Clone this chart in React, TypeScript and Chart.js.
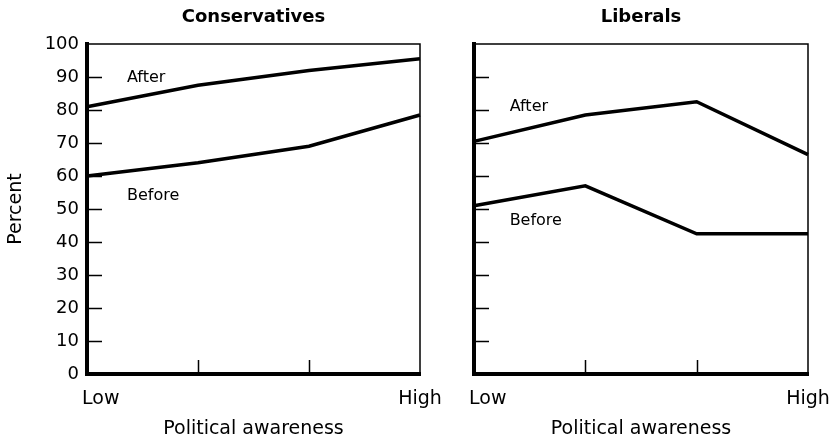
import React, { useEffect, useRef } from "react";
import { Chart, registerables } from "chart.js";

Chart.register(...registerables);

// ---- data ----
const categories = ["Low", "", "", "High"];
const yTickValues = [0, 10, 20, 30, 40, 50, 60, 70, 80, 90, 100];

const conservativesAfter = [81, 87.5, 92, 95.5];
const conservativesBefore = [60, 64, 69, 78.5];
const liberalsAfter = [70.5, 78.5, 82.5, 66.5];
const liberalsBefore = [51, 57, 42.5, 42.5];

const seriesNames = ["After", "Before"];
const panelTitles = ["Conservatives", "Liberals"];
const xAxisTitle = "Political awareness";
const yAxisTitle = "Percent";

// label anchors (data units: category index, percent)
const conservativesLabelX = [0.36, 0.36];
const conservativesLabelY = [89.7, 53.9];
const liberalsLabelX = [0.32, 0.32];
const liberalsLabelY = [80.9, 46.4];

const FONT = "'DejaVu Sans', 'Liberation Sans', sans-serif";

const decorPlugin = {
  id: "decor",
  afterDraw(chart: any, _args: any, opts: any) {
    const { ctx, chartArea: a, scales } = chart;
    const xs = scales.x;
    const ys = scales.y;
    ctx.save();
    ctx.strokeStyle = "#000";
    ctx.lineWidth = 1.5;
    ctx.beginPath();
    ctx.moveTo(a.left, a.top);
    ctx.lineTo(a.right, a.top);
    ctx.lineTo(a.right, a.bottom);
    for (const v of yTickValues) {
      if (v === 0 || v === 100) continue;
      const py = Math.round(ys.getPixelForValue(v)) + 0.5;
      ctx.moveTo(a.left, py);
      ctx.lineTo(a.left + 15, py);
    }
    for (let i = 1; i < categories.length - 1; i++) {
      const px = Math.round(xs.getPixelForValue(i)) + 0.5;
      ctx.moveTo(px, a.bottom);
      ctx.lineTo(px, a.bottom - 14);
    }
    ctx.stroke();

    ctx.fillStyle = "#000";
    ctx.textBaseline = "alphabetic";
    ctx.font = `19px ${FONT}`;
    ctx.textAlign = "left";
    ctx.fillText(categories[0], xs.getPixelForValue(0) - 5, a.bottom + 30);
    ctx.textAlign = "center";
    ctx.fillText(
      categories[categories.length - 1],
      xs.getPixelForValue(categories.length - 1),
      a.bottom + 30
    );

    ctx.font = `16px ${FONT}`;
    ctx.textAlign = "left";
    ctx.textBaseline = "middle";
    const lx: number[] = opts.labelX || [];
    const ly: number[] = opts.labelY || [];
    seriesNames.forEach((name, i) => {
      ctx.fillText(name, xs.getPixelForValue(lx[i]), ys.getPixelForValue(ly[i]));
    });
    ctx.restore();
  },
};

function Panel(props: {
  title: string;
  after: number[];
  before: number[];
  labelX: number[];
  labelY: number[];
  showY: boolean;
  left: number;
  width: number;
  padRight: number;
  yWidth: number;
}) {
  const ref = useRef<HTMLCanvasElement | null>(null);
  useEffect(() => {
    if (!ref.current) return;
    const chart = new Chart(ref.current, {
      type: "line",
      data: {
        labels: categories,
        datasets: [
          {
            label: seriesNames[0],
            data: props.after,
            borderColor: "#000",
            borderWidth: 3.5,
            pointRadius: 0,
            tension: 0,
            borderJoinStyle: "miter",
            fill: false,
          },
          {
            label: seriesNames[1],
            data: props.before,
            borderColor: "#000",
            borderWidth: 3.5,
            pointRadius: 0,
            tension: 0,
            borderJoinStyle: "miter",
            fill: false,
          },
        ],
      },
      options: {
        responsive: false,
        animation: false,
        devicePixelRatio: 1,
        layout: { padding: { left: 0, right: props.padRight, top: 0, bottom: 0 } },
        plugins: {
          legend: { display: false },
          tooltip: { enabled: false },
          title: {
            display: true,
            text: props.title,
            fullSize: false,
            color: "#000",
            font: { family: FONT, size: 18, weight: "bold" },
            padding: { top: 7, bottom: 15.4 },
          },
          decor: { labelX: props.labelX, labelY: props.labelY },
        } as any,
        scales: {
          x: {
            type: "category",
            offset: false,
            grid: { display: false, drawTicks: false },
            border: { display: true, width: 4, color: "#000" },
            ticks: { display: false },
            title: {
              display: true,
              text: xAxisTitle,
              color: "#000",
              font: { family: FONT, size: 19 },
              padding: { top: 0, bottom: 4 },
            },
            afterFit: (s: any) => {
              s.height = 70;
            },
          },
          y: {
            min: 0,
            max: 100,
            grid: { display: false, drawTicks: false },
            border: { display: true, width: 4, color: "#000" },
            ticks: {
              display: props.showY,
              stepSize: 10,
              padding: 8,
              color: "#000",
              font: { family: FONT, size: 18 },
            },
            title: {
              display: props.showY,
              text: yAxisTitle,
              color: "#000",
              font: { family: FONT, size: 19 },
              padding: { top: 5, bottom: 0 },
            },
            afterFit: (s: any) => {
              s.width = props.yWidth;
            },
          },
        },
      } as any,
      plugins: [decorPlugin],
    });
    return () => chart.destroy();
  }, []);
  return (
    <canvas
      ref={ref}
      width={props.width}
      height={444}
      style={{
        position: "absolute",
        left: props.left,
        top: 0,
        width: props.width,
        height: 444,
      }}
    />
  );
}

export default function App() {
  return (
    <div
      style={{
        position: "absolute",
        left: 0,
        top: 0,
        width: 837,
        height: 444,
        background: "#fff",
      }}
    >
      <Panel
        title={panelTitles[0]}
        after={conservativesAfter}
        before={conservativesBefore}
        labelX={conservativesLabelX}
        labelY={conservativesLabelY}
        showY={true}
        left={0}
        width={450}
        padRight={30}
        yWidth={87}
      />
      <Panel
        title={panelTitles[1]}
        after={liberalsAfter}
        before={liberalsBefore}
        labelX={liberalsLabelX}
        labelY={liberalsLabelY}
        showY={false}
        left={450}
        width={387}
        padRight={29}
        yWidth={24}
      />
    </div>
  );
}
